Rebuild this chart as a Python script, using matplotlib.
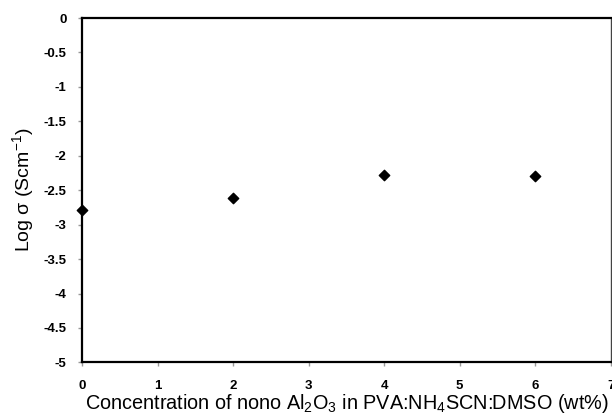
import matplotlib as mpl
mpl.use('Agg')
import matplotlib.pyplot as plt

# data
conc = [0, 2, 4, 6]
log_sigma = [-2.78, -2.62, -2.28, -2.30]
xticks = [0, 1, 2, 3, 4, 5, 6, 7]
yticks = [0, -0.5, -1, -1.5, -2, -2.5, -3, -3.5, -4, -4.5, -5]

plt.rcParams['font.family'] = ['Liberation Sans', 'DejaVu Sans']

fig = plt.figure(figsize=(6.12, 4.19), dpi=100)
ax = fig.add_axes([0.134, 0.135, 0.864, 0.822])

ax.scatter(conc, log_sigma, marker='D', s=28, color='black', zorder=3, clip_on=False)

ax.set_xlim(0, 7)
ax.set_ylim(-5, 0)
ax.set_xticks(xticks)
ax.set_yticks(yticks)
ax.set_xticklabels([str(t) for t in xticks], fontsize=9.5, fontweight='bold')
ax.set_yticklabels(['%g' % t for t in yticks], fontsize=9.5, fontweight='bold')
ax.tick_params(axis='both', direction='out', length=3, width=1, color='#999999', pad=8)
ax.tick_params(axis='x', pad=10)

for side in ['left', 'bottom', 'top', 'right']:
    ax.spines[side].set_linewidth(1.6)
    ax.spines[side].set_color('black')
ax.spines['right'].set_linewidth(1.0)
ax.spines['right'].set_color('#444444')

ax.set_ylabel(r'Log $\mathregular{\sigma}$ (Scm$^{\mathregular{-1}}$)', fontsize=14, labelpad=5)
ax.set_xlabel(r'Concentration of nono Al$_{\mathregular{2}}$O$_{\mathregular{3}}$ in PVA:NH$_{\mathregular{4}}$SCN:DMSO (wt%)',
              fontsize=14.3, labelpad=0)

plt.savefig('out.png', dpi=100)
plt.close()
